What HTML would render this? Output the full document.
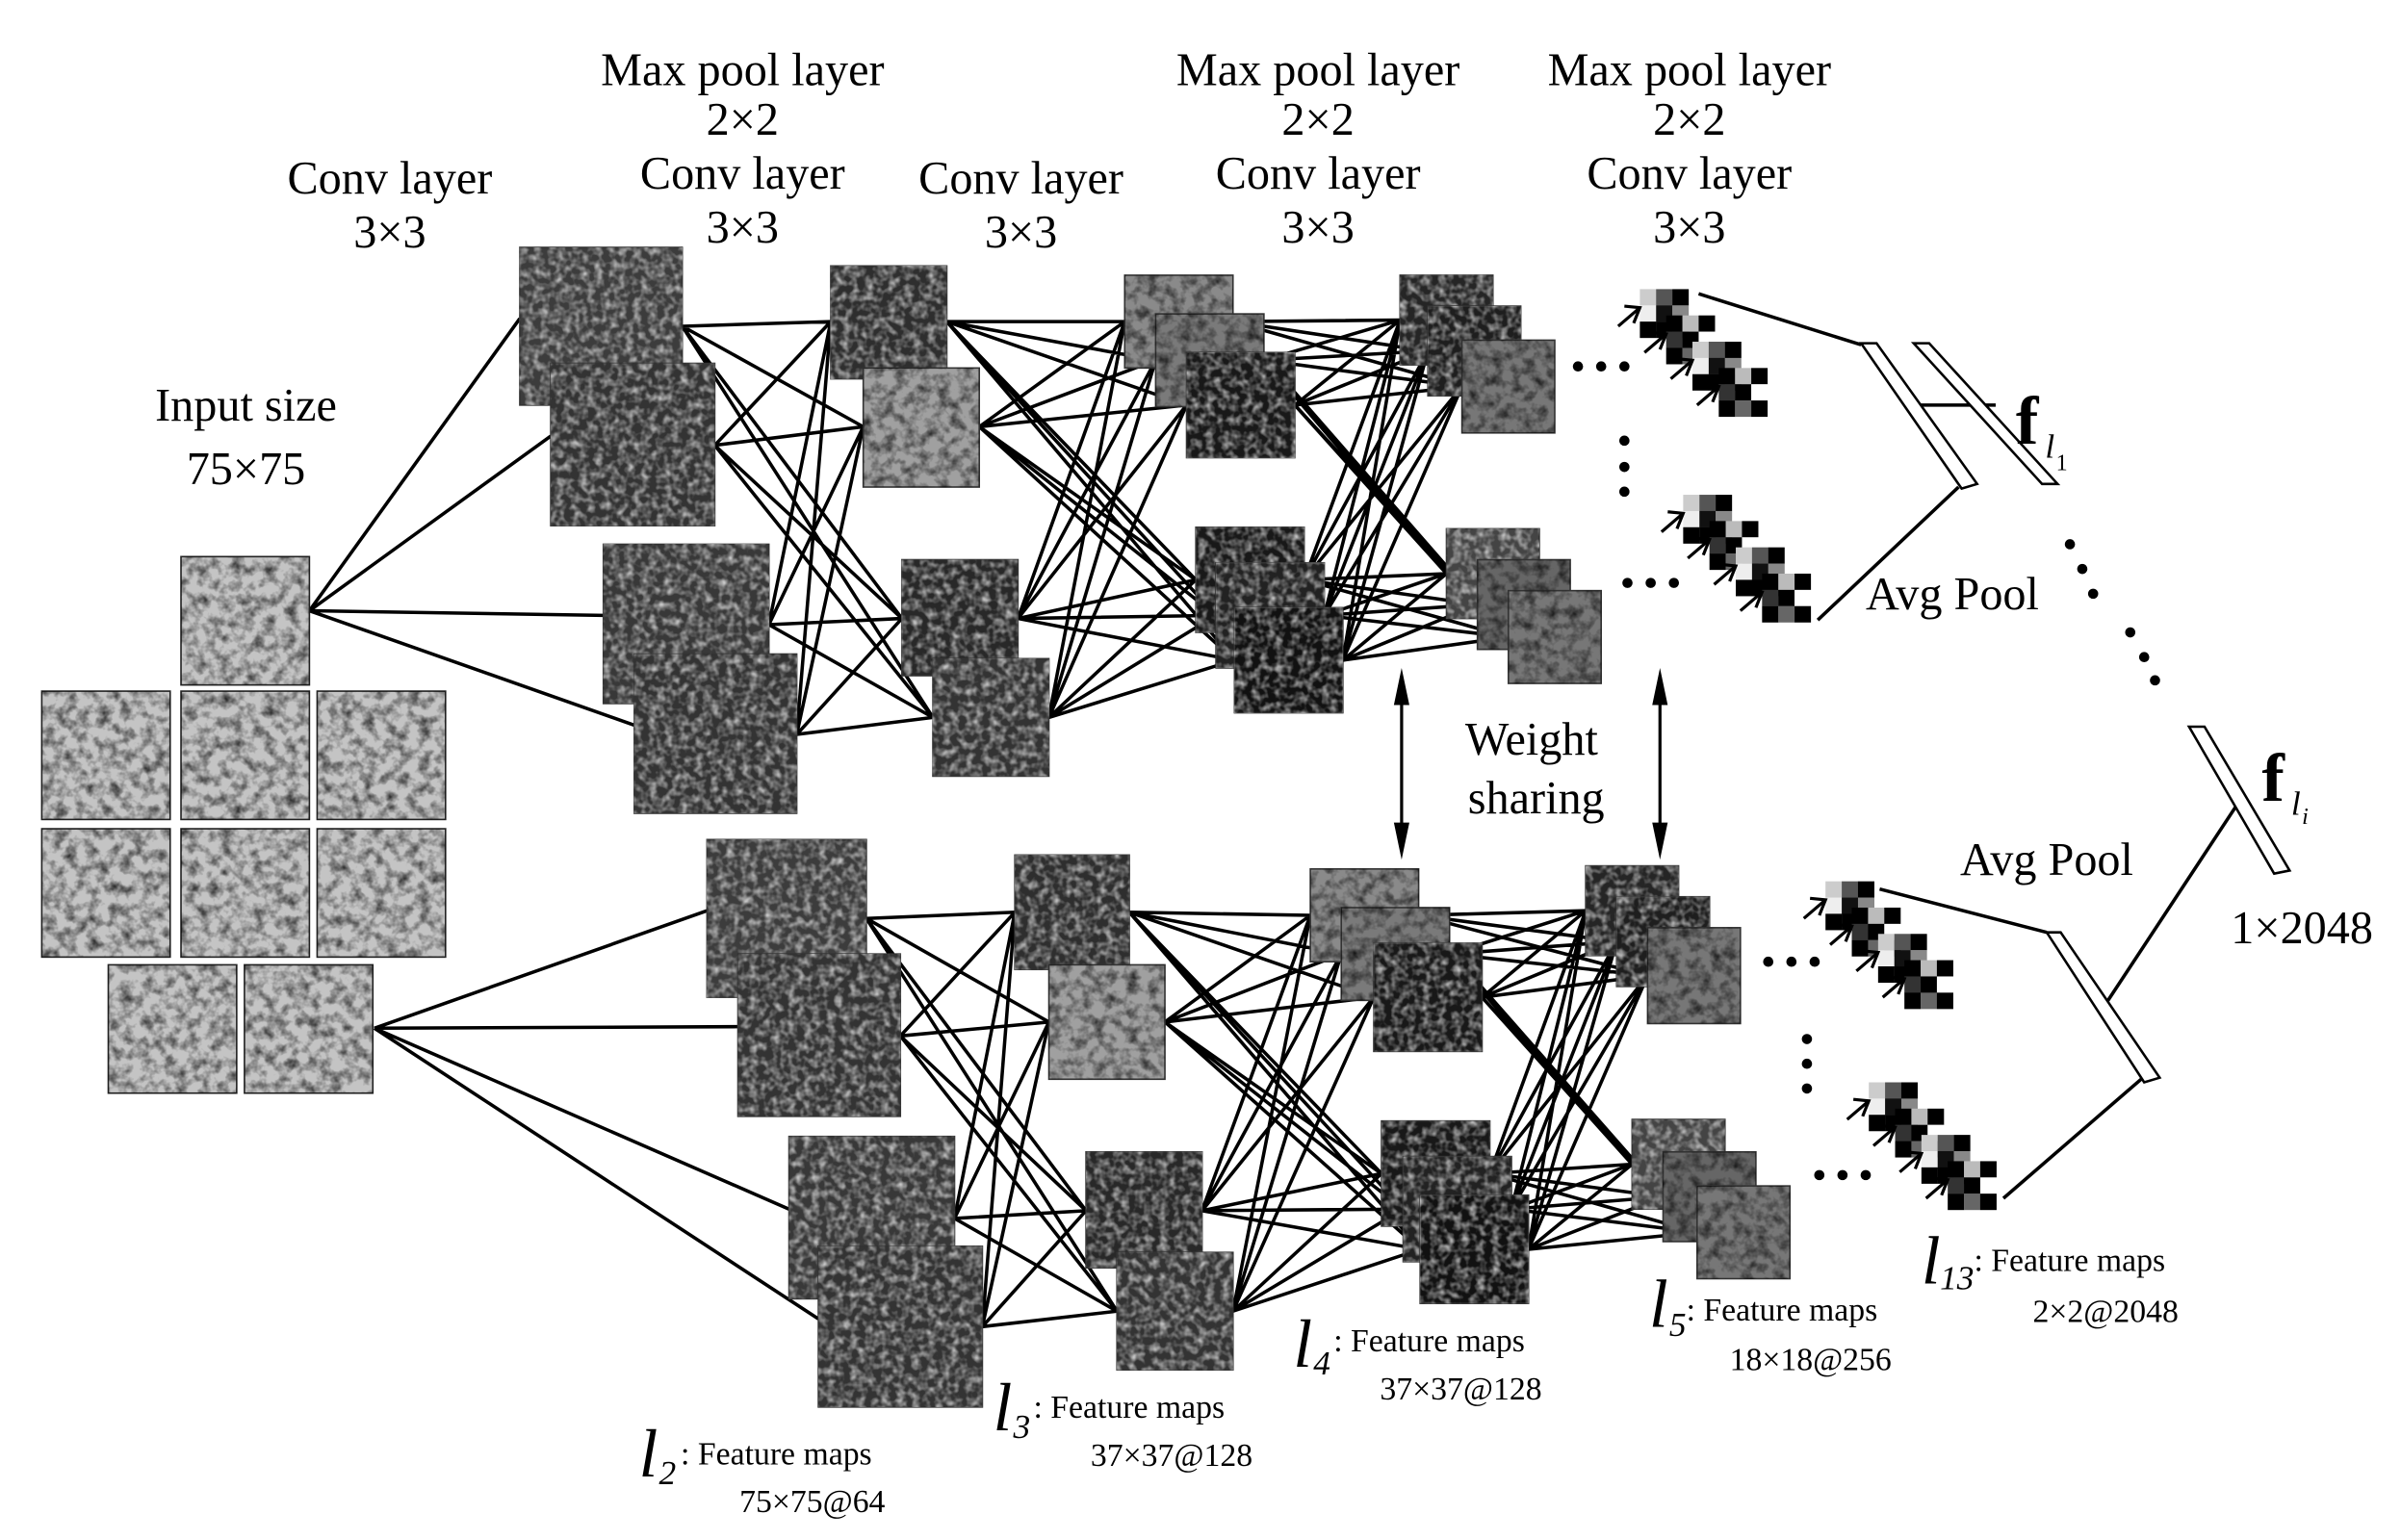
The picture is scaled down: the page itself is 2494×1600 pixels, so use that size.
<!DOCTYPE html>
<html><head><meta charset="utf-8"><style>
html,body{margin:0;padding:0;background:#fff;}
svg{display:block;}
text{font-family:"Liberation Serif","DejaVu Serif",serif;fill:#000;}
</style></head><body>
<svg width="2494" height="1600" viewBox="0 0 1552 996" preserveAspectRatio="none" xmlns="http://www.w3.org/2000/svg">
<defs>
<filter id="nz" x="0" y="0" width="1" height="1">
<feTurbulence type="fractalNoise" baseFrequency="0.2" numOctaves="2" seed="3"/>
<feColorMatrix type="matrix" values="0 0 0 0 1  0 0 0 0 1  0 0 0 0 1  1.4 0 0 0 -0.55"/>
<feComposite in2="SourceGraphic" operator="in"/>
</filter>
<filter id="nz2" x="0" y="0" width="1" height="1">
<feTurbulence type="fractalNoise" baseFrequency="0.14" numOctaves="3" seed="7"/>
<feColorMatrix type="matrix" values="0 0 0 0 0  0 0 0 0 0  0 0 0 0 0  1.5 0 0 0 -0.6"/>
<feComposite in2="SourceGraphic" operator="in"/>
</filter>
<g id="bA">
<rect x="0" y="0" width="10.6" height="10.6" fill="#ccc"/><rect x="10.5" y="0" width="10.6" height="10.6" fill="#555"/><rect x="21" y="0" width="10.6" height="10.6" fill="#000"/>
<rect x="0" y="10.5" width="10.6" height="10.6" fill="#eee"/><rect x="10.5" y="10.5" width="10.6" height="10.6" fill="#111"/><rect x="21" y="10.5" width="10.6" height="10.6" fill="#888"/>
<rect x="0" y="21" width="10.6" height="10.6" fill="#000"/><rect x="10.5" y="21" width="10.6" height="10.6" fill="#000"/><rect x="21" y="21" width="10.6" height="10.6" fill="#444"/>
</g>
<g id="bB">
<rect x="0" y="0" width="10.6" height="10.6" fill="#000"/><rect x="10.5" y="0" width="10.6" height="10.6" fill="#bbb"/><rect x="21" y="0" width="10.6" height="10.6" fill="#000"/>
<rect x="0" y="10.5" width="10.6" height="10.6" fill="#333"/><rect x="10.5" y="10.5" width="10.6" height="10.6" fill="#000"/><rect x="21" y="10.5" width="10.6" height="10.6" fill="#fff"/>
<rect x="0" y="21" width="10.6" height="10.6" fill="#000"/><rect x="10.5" y="21" width="10.6" height="10.6" fill="#666"/><rect x="21" y="21" width="10.6" height="10.6" fill="#000"/>
</g>
<g id="ar" stroke="#000" stroke-width="2" fill="none"><line x1="-14" y1="12" x2="0" y2="0"/><polyline points="-10,-1 0,0 -4,10"/></g>
<g id="cl">
<use href="#bA" x="0" y="0"/><use href="#bB" x="17" y="17"/><use href="#bA" x="34" y="34"/><use href="#bB" x="51" y="51"/>
<use href="#ar" x="0" y="12"/><use href="#ar" x="17" y="29"/><use href="#ar" x="34" y="46"/><use href="#ar" x="51" y="63"/>
</g>
</defs>

<!-- connections top -->
<path fill="none" stroke="#000" stroke-width="2.2" d="
M200 395L336 206M200 395L356 282M200 395L390 398M200 395L410 469
M441 211L537 208M441 211L558 276M441 211L583 400M441 211L603 464
M462 288L537 208M462 288L558 276M462 288L583 400M462 288L603 464
M497 404L537 208M497 404L558 276M497 404L583 400M497 404L603 464
M515 475L537 208M515 475L558 276M515 475L583 400M515 475L603 464
M612 208L727 208M612 208L747 233M612 208L767 262M612 208L773 375M612 208L786 398M612 208L798 427
M633 276L727 208M633 276L747 233M633 276L767 262M633 276L773 375M633 276L786 398M633 276L798 427
M658 400L727 208M658 400L747 233M658 400L767 262M658 400L773 375M658 400L786 398M658 400L798 427
M678 464L727 208M678 464L747 233M678 464L767 262M678 464L773 375M678 464L786 398M678 464L798 427
M797 208L905 207M797 208L923 227M797 208L945 250M797 208L935 371M797 208L955 391M797 208L975 412
M817 233L905 207M817 233L923 227M817 233L945 250M817 233L935 371M817 233L955 391M817 233L975 412
M837 262L905 207M837 262L923 227M837 262L945 250M837 262L935 371M837 262L955 391M837 262L975 412
M843 375L905 207M843 375L923 227M843 375L945 250M843 375L935 371M843 375L955 391M843 375L975 412
M856 398L905 207M856 398L923 227M856 398L945 250M856 398L935 371M856 398L955 391M856 398L975 412
M868 427L905 207M868 427L923 227M868 427L945 250M868 427L935 371M868 427L955 391M868 427L975 412
"/>
<!-- connections bottom -->
<path fill="none" stroke="#000" stroke-width="2.2" d="
M242 665L457 589M242 665L477 664M242 665L510 782M242 665L529 853
M560 594L656 590M560 594L678 661M560 594L702 783M560 594L722 848
M582 670L656 590M582 670L678 661M582 670L702 783M582 670L722 848
M617 788L656 590M617 788L678 661M617 788L702 783M617 788L722 848
M635 858L656 590M635 858L678 661M635 858L702 783M635 858L722 848
M730 590L847 592M730 590L867 617M730 590L888 645M730 590L893 759M730 590L907 782M730 590L918 808
M753 661L847 592M753 661L867 617M753 661L888 645M753 661L893 759M753 661L907 782M753 661L918 808
M777 783L847 592M777 783L867 617M777 783L888 645M777 783L893 759M777 783L907 782M777 783L918 808
M797 848L847 592M797 848L867 617M797 848L888 645M797 848L893 759M797 848L907 782M797 848L918 808
M917 592L1025 589M917 592L1045 609M917 592L1065 631M917 592L1055 753M917 592L1075 774M917 592L1097 797
M937 617L1025 589M937 617L1045 609M937 617L1065 631M937 617L1055 753M937 617L1075 774M937 617L1097 797
M958 645L1025 589M958 645L1045 609M958 645L1065 631M958 645L1055 753M958 645L1075 774M958 645L1097 797
M963 759L1025 589M963 759L1045 609M963 759L1065 631M963 759L1055 753M963 759L1075 774M963 759L1097 797
M977 782L1025 589M977 782L1045 609M977 782L1065 631M977 782L1055 753M977 782L1075 774M977 782L1097 797
M988 808L1025 589M988 808L1045 609M988 808L1065 631M988 808L1055 753M988 808L1075 774M988 808L1097 797
"/>

<!-- input patches -->
<g stroke="#222" stroke-width="1">
<rect x="117" y="360" width="83" height="83" fill="#c4c4c4"/>
<rect x="27" y="447" width="83" height="83" fill="#c4c4c4"/><rect x="117" y="447" width="83" height="83" fill="#c4c4c4"/><rect x="205" y="447" width="83" height="83" fill="#c4c4c4"/>
<rect x="27" y="536" width="83" height="83" fill="#c4c4c4"/><rect x="117" y="536" width="83" height="83" fill="#c4c4c4"/><rect x="205" y="536" width="83" height="83" fill="#c4c4c4"/>
<rect x="70" y="624" width="83" height="83" fill="#c4c4c4"/><rect x="158" y="624" width="83" height="83" fill="#c4c4c4"/>
</g>
<g fill="#000" filter="url(#nz2)">
<rect x="117" y="360" width="83" height="83"/>
<rect x="27" y="447" width="83" height="83"/><rect x="117" y="447" width="83" height="83"/><rect x="205" y="447" width="83" height="83"/>
<rect x="27" y="536" width="83" height="83"/><rect x="117" y="536" width="83" height="83"/><rect x="205" y="536" width="83" height="83"/>
<rect x="70" y="624" width="83" height="83"/><rect x="158" y="624" width="83" height="83"/>
</g>

<!-- feature maps -->
<g stroke="#333" stroke-width="1">
<rect x="336" y="160" width="105" height="102" fill="#3c3c3c"/><rect x="336" y="160" width="105" height="102" fill="#000" filter="url(#nz)"/>
<rect x="356" y="235" width="106" height="105" fill="#333"/><rect x="356" y="235" width="106" height="105" fill="#000" filter="url(#nz)"/>
<rect x="390" y="352" width="107" height="103" fill="#383838"/><rect x="390" y="352" width="107" height="103" fill="#000" filter="url(#nz)"/>
<rect x="410" y="423" width="105" height="103" fill="#333"/><rect x="410" y="423" width="105" height="103" fill="#000" filter="url(#nz)"/>
<rect x="537" y="172" width="75" height="73" fill="#2e2e2e"/><rect x="537" y="172" width="75" height="73" fill="#000" filter="url(#nz)"/>
<rect x="558" y="238" width="75" height="77" fill="#a0a0a0"/><rect x="558" y="238" width="75" height="77" fill="#000" filter="url(#nz2)"/>
<rect x="583" y="362" width="75" height="75" fill="#282828"/><rect x="583" y="362" width="75" height="75" fill="#000" filter="url(#nz)"/>
<rect x="603" y="426" width="75" height="76" fill="#333"/><rect x="603" y="426" width="75" height="76" fill="#000" filter="url(#nz)"/>
<rect x="727" y="178" width="70" height="60" fill="#8a8a8a"/><rect x="727" y="178" width="70" height="60" fill="#000" filter="url(#nz2)"/>
<rect x="747" y="203" width="70" height="60" fill="#7a7a7a"/><rect x="747" y="203" width="70" height="60" fill="#000" filter="url(#nz2)"/>
<rect x="767" y="228" width="70" height="68" fill="#181818"/><rect x="767" y="228" width="70" height="68" fill="#000" filter="url(#nz)"/>
<rect x="773" y="341" width="70" height="68" fill="#181818"/><rect x="773" y="341" width="70" height="68" fill="#000" filter="url(#nz)"/>
<rect x="786" y="364" width="70" height="68" fill="#222"/><rect x="786" y="364" width="70" height="68" fill="#000" filter="url(#nz)"/>
<rect x="798" y="393" width="70" height="68" fill="#111"/><rect x="798" y="393" width="70" height="68" fill="#000" filter="url(#nz)"/>
<rect x="905" y="178" width="60" height="58" fill="#252525"/><rect x="905" y="178" width="60" height="58" fill="#000" filter="url(#nz)"/>
<rect x="923" y="198" width="60" height="58" fill="#1e1e1e"/><rect x="923" y="198" width="60" height="58" fill="#000" filter="url(#nz)"/>
<rect x="945" y="220" width="60" height="60" fill="#777"/><rect x="945" y="220" width="60" height="60" fill="#000" filter="url(#nz2)"/>
<rect x="935" y="342" width="60" height="58" fill="#444"/><rect x="935" y="342" width="60" height="58" fill="#000" filter="url(#nz)"/>
<rect x="955" y="362" width="60" height="58" fill="#666"/><rect x="955" y="362" width="60" height="58" fill="#000" filter="url(#nz2)"/>
<rect x="975" y="382" width="60" height="60" fill="#777"/><rect x="975" y="382" width="60" height="60" fill="#000" filter="url(#nz2)"/>

<rect x="457" y="543" width="103" height="102" fill="#3c3c3c"/><rect x="457" y="543" width="103" height="102" fill="#000" filter="url(#nz)"/>
<rect x="477" y="617" width="105" height="105" fill="#333"/><rect x="477" y="617" width="105" height="105" fill="#000" filter="url(#nz)"/>
<rect x="510" y="735" width="107" height="105" fill="#383838"/><rect x="510" y="735" width="107" height="105" fill="#000" filter="url(#nz)"/>
<rect x="529" y="806" width="106" height="104" fill="#333"/><rect x="529" y="806" width="106" height="104" fill="#000" filter="url(#nz)"/>
<rect x="656" y="553" width="74" height="74" fill="#2e2e2e"/><rect x="656" y="553" width="74" height="74" fill="#000" filter="url(#nz)"/>
<rect x="678" y="624" width="75" height="74" fill="#a0a0a0"/><rect x="678" y="624" width="75" height="74" fill="#000" filter="url(#nz2)"/>
<rect x="702" y="745" width="75" height="75" fill="#282828"/><rect x="702" y="745" width="75" height="75" fill="#000" filter="url(#nz)"/>
<rect x="722" y="810" width="75" height="76" fill="#333"/><rect x="722" y="810" width="75" height="76" fill="#000" filter="url(#nz)"/>
<rect x="847" y="562" width="70" height="60" fill="#8a8a8a"/><rect x="847" y="562" width="70" height="60" fill="#000" filter="url(#nz2)"/>
<rect x="867" y="587" width="70" height="60" fill="#7a7a7a"/><rect x="867" y="587" width="70" height="60" fill="#000" filter="url(#nz2)"/>
<rect x="888" y="610" width="70" height="70" fill="#181818"/><rect x="888" y="610" width="70" height="70" fill="#000" filter="url(#nz)"/>
<rect x="893" y="725" width="70" height="68" fill="#181818"/><rect x="893" y="725" width="70" height="68" fill="#000" filter="url(#nz)"/>
<rect x="907" y="748" width="70" height="68" fill="#222"/><rect x="907" y="748" width="70" height="68" fill="#000" filter="url(#nz)"/>
<rect x="918" y="773" width="70" height="70" fill="#111"/><rect x="918" y="773" width="70" height="70" fill="#000" filter="url(#nz)"/>
<rect x="1025" y="560" width="60" height="58" fill="#252525"/><rect x="1025" y="560" width="60" height="58" fill="#000" filter="url(#nz)"/>
<rect x="1045" y="580" width="60" height="58" fill="#1e1e1e"/><rect x="1045" y="580" width="60" height="58" fill="#000" filter="url(#nz)"/>
<rect x="1065" y="600" width="60" height="62" fill="#777"/><rect x="1065" y="600" width="60" height="62" fill="#000" filter="url(#nz2)"/>
<rect x="1055" y="724" width="60" height="58" fill="#444"/><rect x="1055" y="724" width="60" height="58" fill="#000" filter="url(#nz)"/>
<rect x="1075" y="745" width="60" height="58" fill="#666"/><rect x="1075" y="745" width="60" height="58" fill="#000" filter="url(#nz2)"/>
<rect x="1097" y="767" width="60" height="60" fill="#777"/><rect x="1097" y="767" width="60" height="60" fill="#000" filter="url(#nz2)"/>
</g>

<!-- pixel clusters -->
<use href="#cl" x="1060" y="187"/>
<use href="#cl" x="1088" y="320"/>
<use href="#cl" x="1180" y="570"/>
<use href="#cl" x="1208" y="700"/>

<!-- dots -->
<g fill="#000">
<circle cx="1020" cy="237" r="3.3"/><circle cx="1035" cy="237" r="3.3"/><circle cx="1050" cy="237" r="3.3"/>
<circle cx="1050" cy="285" r="3.3"/><circle cx="1050" cy="302" r="3.3"/><circle cx="1050" cy="318" r="3.3"/>
<circle cx="1052" cy="377" r="3.3"/><circle cx="1067" cy="377" r="3.3"/><circle cx="1082" cy="377" r="3.3"/>
<circle cx="1143" cy="622" r="3.3"/><circle cx="1158" cy="622" r="3.3"/><circle cx="1173" cy="622" r="3.3"/>
<circle cx="1168" cy="672" r="3.3"/><circle cx="1168" cy="688" r="3.3"/><circle cx="1168" cy="704" r="3.3"/>
<circle cx="1176" cy="760" r="3.3"/><circle cx="1191" cy="760" r="3.3"/><circle cx="1206" cy="760" r="3.3"/>
<circle cx="1338" cy="352" r="3.3"/><circle cx="1346" cy="368" r="3.3"/><circle cx="1353" cy="384" r="3.3"/>
<circle cx="1377" cy="409" r="3.3"/><circle cx="1386" cy="425" r="3.3"/><circle cx="1393" cy="440" r="3.3"/>
</g>

<!-- pooling -->
<g stroke="#000" stroke-width="2.2" fill="none">
<line x1="1098" y1="190" x2="1203" y2="223"/><line x1="1175" y1="401" x2="1266" y2="315"/>
<line x1="1237" y1="262" x2="1290" y2="262"/>
<line x1="1215" y1="575" x2="1323" y2="603"/><line x1="1295" y1="775" x2="1384" y2="698"/>
<line x1="1360" y1="651" x2="1445" y2="522"/>
</g>
<g fill="#fff" stroke="#000" stroke-width="1.6">
<polygon points="1203,222 1213,222 1278,313 1268,316"/>
<polygon points="1237,222 1247,222 1330,313 1320,313"/>
<polygon points="1323,603 1332,603 1396,697 1386,700"/>
<polygon points="1415,470 1425,470 1480,563 1470,565"/>
</g>

<!-- weight sharing arrows -->
<g stroke="#000" stroke-width="2"><line x1="906" y1="446" x2="906" y2="542"/><line x1="1073" y1="446" x2="1073" y2="542"/></g>
<g fill="#000">
<polygon points="906,432 901,456 911,456"/><polygon points="906,556 901,532 911,532"/>
<polygon points="1073,432 1068,456 1078,456"/><polygon points="1073,556 1068,532 1078,532"/>
</g>

<!-- Top labels -->
<g font-size="30" text-anchor="middle">
<text x="252" y="125">Conv layer</text><text x="252" y="160">3×3</text>
<text x="480" y="55">Max pool layer</text><text x="480" y="87">2×2</text>
<text x="480" y="122">Conv layer</text><text x="480" y="157">3×3</text>
<text x="660" y="125">Conv layer</text><text x="660" y="160">3×3</text>
<text x="852" y="55">Max pool layer</text><text x="852" y="87">2×2</text>
<text x="852" y="122">Conv layer</text><text x="852" y="157">3×3</text>
<text x="1092" y="55">Max pool layer</text><text x="1092" y="87">2×2</text>
<text x="1092" y="122">Conv layer</text><text x="1092" y="157">3×3</text>
<text x="159" y="272">Input size</text><text x="159" y="313">75×75</text>
<text x="990" y="488">Weight</text><text x="993" y="526">sharing</text>
<text x="1262" y="394">Avg Pool</text>
<text x="1323" y="566">Avg Pool</text>
<text x="1488" y="610">1×2048</text>
</g>
<text x="1303" y="287" font-size="44" font-weight="bold">f</text>
<text x="1322" y="296" font-size="22" font-style="italic">l</text><text x="1329" y="304" font-size="15">1</text>
<text x="1462" y="518" font-size="44" font-weight="bold">f</text>
<text x="1481" y="527" font-size="22" font-style="italic">l</text><text x="1488" y="533" font-size="15" font-style="italic">i</text>

<!-- bottom labels -->
<g font-size="21">
<text x="413" y="955" font-size="44" font-style="italic">l</text><text x="426" y="960" font-size="22" font-style="italic">2</text>
<text x="440" y="947">: Feature maps</text><text x="478" y="978">75×75@64</text>
<text x="642" y="925" font-size="44" font-style="italic">l</text><text x="655" y="930" font-size="22" font-style="italic">3</text>
<text x="668" y="917">: Feature maps</text><text x="705" y="948">37×37@128</text>
<text x="836" y="884" font-size="44" font-style="italic">l</text><text x="849" y="889" font-size="22" font-style="italic">4</text>
<text x="862" y="874">: Feature maps</text><text x="892" y="905">37×37@128</text>
<text x="1066" y="858" font-size="44" font-style="italic">l</text><text x="1079" y="864" font-size="22" font-style="italic">5</text>
<text x="1090" y="854">: Feature maps</text><text x="1118" y="886">18×18@256</text>
<text x="1242" y="830" font-size="44" font-style="italic">l</text><text x="1254" y="834" font-size="22" font-style="italic">13</text>
<text x="1276" y="822">: Feature maps</text><text x="1314" y="855">2×2@2048</text>
</g>
</svg>
</body></html>
